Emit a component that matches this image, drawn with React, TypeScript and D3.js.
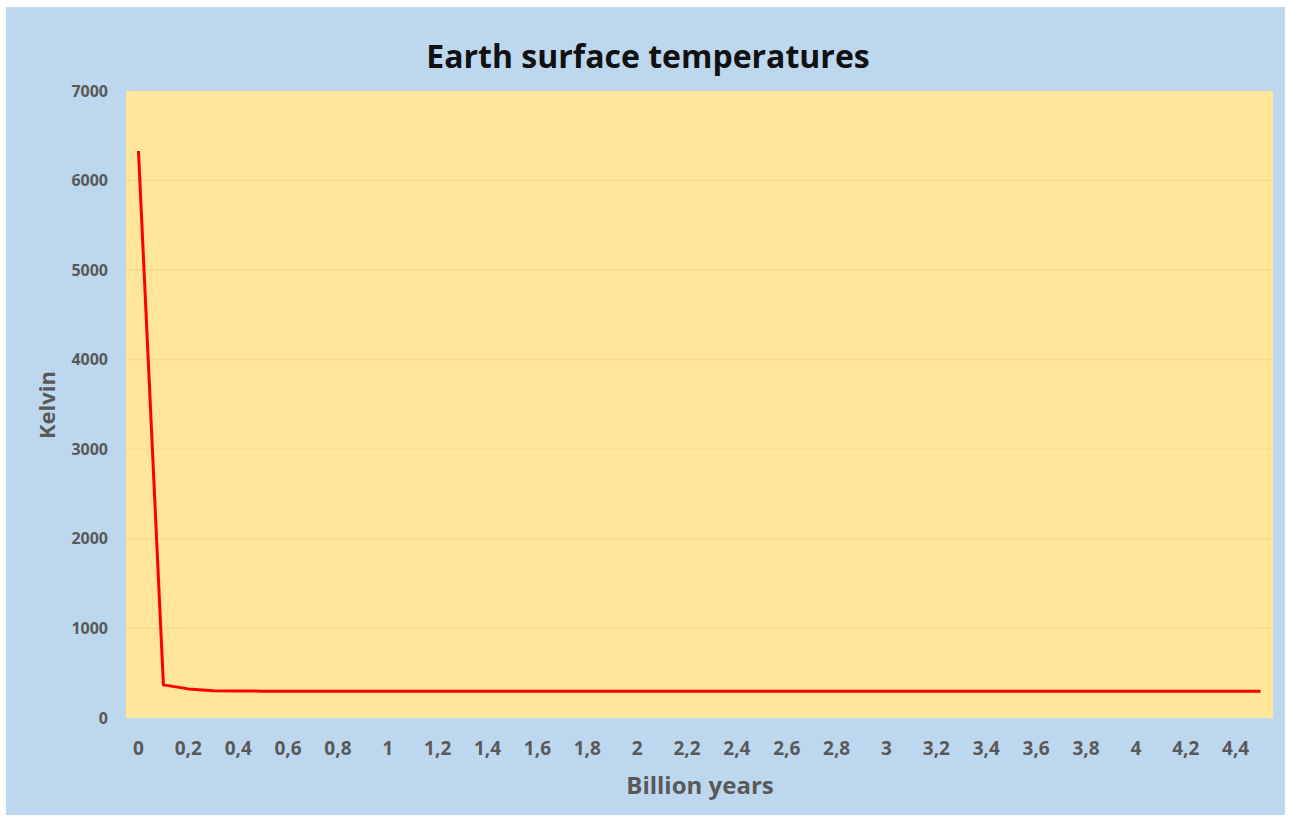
import React from "react";
import * as d3 from "d3";

const years: number[] = [
  0, 0.1, 0.2, 0.3, 0.4, 0.5, 0.6, 0.7, 0.8, 0.9, 1, 1.1, 1.2, 1.3, 1.4, 1.5,
  1.6, 1.7, 1.8, 1.9, 2, 2.1, 2.2, 2.3, 2.4, 2.5, 2.6, 2.7, 2.8, 2.9, 3, 3.1,
  3.2, 3.3, 3.4, 3.5, 3.6, 3.7, 3.8, 3.9, 4, 4.1, 4.2, 4.3, 4.4, 4.5,
];
const kelvin: number[] = [
  6330, 370, 325, 305, 302, 300, 300, 300, 300, 300, 300, 300, 300, 300, 300,
  300, 300, 300, 300, 300, 300, 300, 300, 300, 300, 300, 300, 300, 300, 300,
  300, 300, 300, 300, 300, 300, 300, 300, 300, 300, 300, 300, 300, 300, 300,
  300,
];
const yTicks: number[] = [0, 1000, 2000, 3000, 4000, 5000, 6000, 7000];
const title = "Earth surface temperatures";
const xTitle = "Billion years";
const yTitle = "Kelvin";

const W = 1290;
const H = 819;
const plot = { left: 126, right: 1273, top: 91, bottom: 718 };
const FONT = "'Open Sans', Lato, sans-serif";

const fmt = (v: number) => String(Math.round(v * 10) / 10).replace(".", ",");

export default function App() {
  const x = d3
    .scaleBand<string>()
    .domain(years.map(fmt))
    .range([plot.left, plot.right]);
  const y = d3.scaleLinear().domain([0, 7000]).range([plot.bottom, plot.top]);
  const line = d3
    .line<number>()
    .x((_, i) => (x(fmt(years[i])) as number) + x.bandwidth() / 2)
    .y((d) => y(d));

  return (
    <svg
      width={W}
      height={H}
      style={{ position: "absolute", left: 0, top: 0, display: "block" }}
    >
      <rect x={0} y={0} width={W} height={H} fill="#ffffff" />
      <rect x={6} y={7} width={1279} height={808} fill="#BDD7EE" />
      <rect
        x={plot.left}
        y={plot.top}
        width={plot.right - plot.left}
        height={plot.bottom - plot.top}
        fill="#FFE699"
      />
      {yTicks.map((t) => (
        <g key={t}>
          {t > 0 && t < 7000 && (
            <line
              x1={plot.left}
              x2={plot.right}
              y1={y(t)}
              y2={y(t)}
              stroke="#F2D898"
              strokeWidth={1}
            />
          )}
          <text
            x={108}
            y={y(t)}
            dy="0.35em"
            textAnchor="end"
            fontFamily={FONT}
            fontWeight={700}
            fontSize={16}
            fill="#595959"
          >
            {t}
          </text>
        </g>
      ))}
      {years.map((yr, i) =>
        i % 2 === 0 ? (
          <text
            key={yr}
            x={(x(fmt(yr)) as number) + x.bandwidth() / 2}
            y={748}
            dy="0.35em"
            textAnchor="middle"
            fontFamily={FONT}
            fontWeight={700}
            fontSize={19}
            fill="#595959"
          >
            {fmt(yr)}
          </text>
        ) : null
      )}
      <path
        d={line(kelvin) || ""}
        fill="none"
        stroke="#FF0000"
        strokeWidth={3}
        strokeLinejoin="round"
      />
      <text
        x={648}
        y={57}
        dy="0.35em"
        textAnchor="middle"
        fontFamily={FONT}
        fontWeight={700}
        fontSize={32}
        fill="#111111"
      >
        {title}
      </text>
      <text
        x={700}
        y={786}
        dy="0.35em"
        textAnchor="middle"
        fontFamily={FONT}
        fontWeight={700}
        fontSize={24}
        fill="#595959"
      >
        {xTitle}
      </text>
      <text
        transform={`translate(47,405) rotate(-90)`}
        dy="0.35em"
        textAnchor="middle"
        fontFamily={FONT}
        fontWeight={700}
        fontSize={22}
        fill="#595959"
      >
        {yTitle}
      </text>
    </svg>
  );
}
